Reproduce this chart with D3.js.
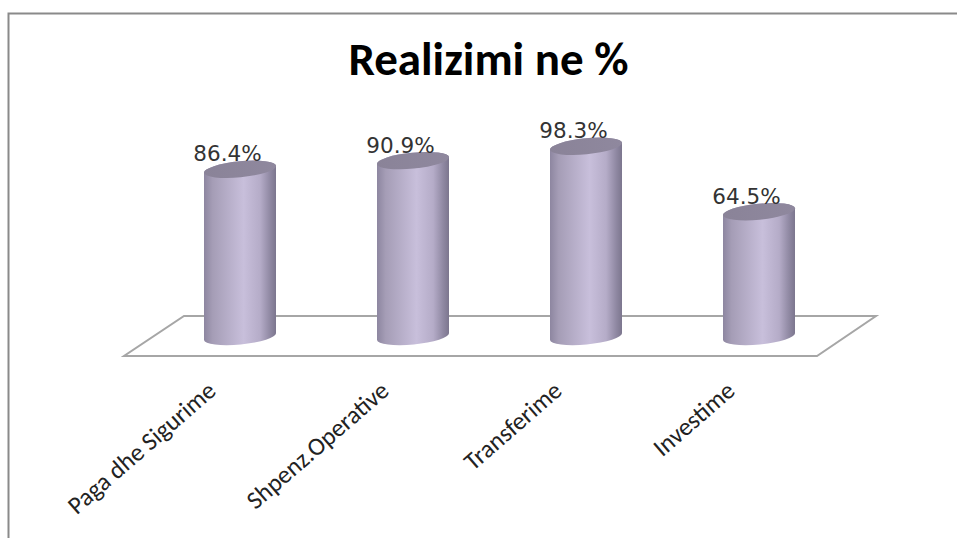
<!DOCTYPE html>
<html>
<head>
<meta charset="utf-8">
<script src="https://cdn.jsdelivr.net/npm/d3@7"></script>
<style>
  html, body { margin: 0; padding: 0; background: #fff; overflow: hidden; }
  svg { display: block; }
</style>
</head>
<body>
<div id="chart"></div>
<script>
const categories = ['Paga dhe Sigurime', 'Shpenz.Operative', 'Transferime', 'Investime'];
const values = [86.4, 90.9, 98.3, 64.5];
const valueLabels = ['86.4%', '90.9%', '98.3%', '64.5%'];
const title = 'Realizimi ne %';

const width = 957, height = 538;

const svg = d3.select('#chart').append('svg')
  .attr('width', width)
  .attr('height', height);

// --- scales
const xScale = d3.scalePoint().domain(categories).range([240, 759]);
const yScale = d3.scaleLinear().domain([0, 100]).range([336.5, 143]);

// --- cylinder shading
const defs = svg.append('defs');
const bodyGrad = defs.append('linearGradient').attr('id', 'body');
[[0, '#8d86a0'], [0.12, '#a59db6'], [0.55, '#c8bfdb'], [0.78, '#b5acc8'], [0.92, '#8f88a2'], [1, '#7c768e']]
  .forEach(([o, c]) => bodyGrad.append('stop').attr('offset', o).attr('stop-color', c));
const topGrad = defs.append('linearGradient').attr('id', 'top');
[[0, '#8a8398'], [1, '#8f889e']]
  .forEach(([o, c]) => topGrad.append('stop').attr('offset', o).attr('stop-color', c));

// --- chart frame, only top and left show
svg.append('path')
  .attr('d', `M8.5,${height} V13.5 H${width}`)
  .attr('fill', 'none')
  .attr('stroke', '#8a8a8a')
  .attr('stroke-width', 2);

// --- floor
svg.append('path')
  .attr('d', 'M124,356 L817,356 L876,316 L184,316 Z')
  .attr('fill', '#fff')
  .attr('stroke', '#a6a6a6')
  .attr('stroke-width', 2);

// --- cylinders
const halfW = 36, tilt = 3.5, ry = 8;
const rx = Math.hypot(halfW, tilt);
const rot = -Math.atan2(tilt, halfW) * 180 / Math.PI;

function bodyPath(cx, yTop, yBase) {
  return `M${cx - halfW},${yTop + tilt} L${cx - halfW},${yBase + tilt}`
    + ` A${rx},${ry} ${rot} 0 0 ${cx + halfW},${yBase - tilt}`
    + ` L${cx + halfW},${yTop - tilt}`
    + ` A${rx},${ry} ${rot} 0 0 ${cx - halfW},${yTop + tilt} Z`;
}

const bars = svg.append('g').selectAll('g')
  .data(categories.map((c, i) => ({ category: c, value: values[i], label: valueLabels[i] })))
  .join('g');

bars.append('path')
  .attr('d', d => bodyPath(xScale(d.category), yScale(d.value), yScale(0)))
  .attr('fill', 'url(#body)');

bars.append('ellipse')
  .attr('rx', rx)
  .attr('ry', ry)
  .attr('transform', d => `translate(${xScale(d.category)},${yScale(d.value)}) rotate(${rot})`)
  .attr('fill', 'url(#top)');

bars.append('text')
  .attr('x', d => xScale(d.category) - 12.5)
  .attr('y', d => yScale(d.value) - 8)
  .attr('text-anchor', 'middle')
  .attr('font-family', '"DejaVu Sans", sans-serif')
  .attr('font-size', 21.5)
  .attr('fill', '#333')
  .text(d => d.label);

// --- category axis, labels only
const axis = svg.append('g')
  .attr('transform', 'translate(0,356)')
  .call(d3.axisBottom(xScale).tickSize(0).tickPadding(0));
axis.select('.domain').remove();
axis.selectAll('text')
  .attr('font-family', 'Carlito, Lato, sans-serif')
  .attr('font-size', 25)
  .attr('fill', '#222')
  .attr('text-anchor', 'end')
  .attr('dy', 0)
  .attr('y', 0)
  .attr('transform', 'translate(-23,37) rotate(-41)');

// --- title
svg.append('text')
  .attr('x', 488.5)
  .attr('y', 75)
  .attr('text-anchor', 'middle')
  .attr('font-family', 'Carlito, Lato, sans-serif')
  .attr('font-weight', 700)
  .attr('font-size', 47)
  .attr('fill', '#000')
  .text(title);
</script>
</body>
</html>
